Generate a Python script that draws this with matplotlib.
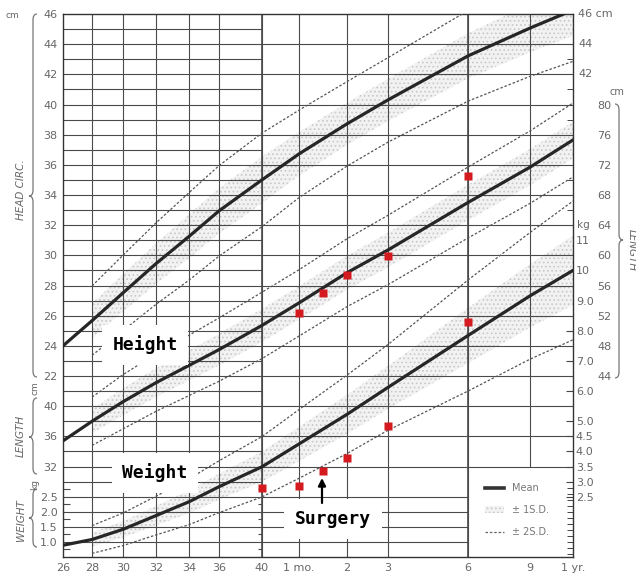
import numpy as np
import matplotlib.pyplot as plt
from matplotlib.lines import Line2D
from matplotlib.patches import Patch, PathPatch
from matplotlib.path import Path

plt.rcParams['hatch.linewidth'] = 0.7

WK = 4.345  # weeks per month

# age axis: postmenstrual weeks up to term, then months after birth
age_labels = ['26', '28', '30', '32', '34', '36', '40', '1 mo.', '2', '3', '6', '9', '1 yr.']
age_weeks = [26, 28, 30, 32, 34, 36, 40, 40 + 1 * WK, 40 + 2 * WK, 40 + 3 * WK,
             40 + 6 * WK, 40 + 9 * WK, 40 + 12 * WK]
# where each age sits across the printed chart (fraction of width)
age_pos = [0.0, 0.057, 0.118, 0.182, 0.247, 0.306, 0.390, 0.463, 0.557, 0.637,
           0.794, 0.916, 1.0]

# reference curves at the ages above
head_mean = [24.0, 25.67, 27.52, 29.44, 31.25, 32.95, 35.0, 36.73, 38.72, 40.3, 43.22, 45.07, 46.26]
head_sd = [np.nan, 1.15, 1.25, 1.35, 1.45, 1.5, 1.55, 1.45, 1.4, 1.4, 1.5, 1.6, 1.7]
len_mean = [35.4, 38.0, 40.6, 43.1, 45.4, 47.5, 50.7, 53.7, 57.7, 60.7, 67.0, 71.7, 75.3]
len_sd = [np.nan, 1.6, 1.8, 1.9, 2.0, 2.1, 2.2, 2.2, 2.25, 2.3, 2.35, 2.4, 2.45]
wt_mean = [0.89, 1.08, 1.42, 1.87, 2.33, 2.83, 3.49, 4.25, 5.23, 6.12, 7.84, 9.16, 10.0]
wt_sd = [np.nan, 0.23, 0.27, 0.32, 0.38, 0.43, 0.5, 0.57, 0.65, 0.71, 0.92, 1.05, 1.15]

# patient measurements
pt_wt_age = [40, 40 + WK, 40 + 1.5 * WK, 40 + 2 * WK, 40 + 3 * WK, 40 + 6 * WK]
pt_wt = [2.8, 2.85, 3.35, 3.78, 4.84, 8.3]
pt_len_age = [40 + WK, 40 + 1.5 * WK, 40 + 2 * WK, 40 + 3 * WK, 40 + 6 * WK]
pt_len = [52.3, 55.0, 57.4, 59.9, 70.5]


# the chart's base unit is head circumference (cm); length and weight share it
def ident(v):
    return np.asarray(v, dtype=float)


def len_to_h(v):
    return np.asarray(v, dtype=float) / 2.0


def h_to_len(v):
    return np.asarray(v, dtype=float) * 2.0


def kg_to_h(v):
    return 2.0 * np.asarray(v, dtype=float) + 9.0


def h_to_kg(v):
    return (np.asarray(v, dtype=float) - 9.0) / 2.0


def fwd(a):
    return np.interp(a, age_weeks, age_pos)


def inv(p):
    return np.interp(p, age_pos, age_weeks)


fig = plt.figure(figsize=(6.36, 5.75), dpi=100)
ax = fig.add_axes([63 / 636, 1 - 557 / 575, 510 / 636, 543 / 575])
ax.set_xscale('function', functions=(fwd, inv))
ax.set_xlim(age_weeks[0], age_weeks[-1])
ax.set_ylim(10, 46)

gc = '#4a4a4a'
glw = 0.8
term = age_weeks[6]
m6 = age_weeks[10]
# grid: 1 cm steps before term, 2 cm steps after
ax.hlines(np.arange(11, 46), age_weeks[0], term, color=gc, lw=glw, zorder=2)
ax.hlines(np.arange(16, 46, 2), term, age_weeks[-1], color=gc, lw=glw, zorder=2)
ax.hlines([11, 12, 13, 14], term, m6, color=gc, lw=glw, zorder=2)
ax.hlines(np.arange(10.5, 15, 1), age_weeks[0], 26.5, color=gc, lw=glw, zorder=2)
ax.hlines(np.arange(10.5, 15, 1), 39.6, term, color=gc, lw=glw, zorder=2)
ax.vlines(age_weeks[1:11], 10, 46, color=gc, lw=glw, zorder=2)
ax.vlines([term, m6], 10, 46, color=gc, lw=1.2, zorder=2)
ax.vlines(age_weeks[11], 16, 46, color=gc, lw=glw, zorder=2)

for mean, sd, conv in [(head_mean, head_sd, ident), (len_mean, len_sd, len_to_h),
                       (wt_mean, wt_sd, kg_to_h)]:
    m = np.array(mean)
    s = np.array(sd)
    ax.fill_between(age_weeks, conv(m - s), conv(m + s), facecolor='#f2f2f2',
                    edgecolor='#c8c8c8', hatch='....', linewidth=0, zorder=1)
    ax.plot(age_weeks, conv(m), color='#262626', lw=2.3, zorder=4,
            solid_joinstyle='round')
    for k in (2, -2):
        ax.plot(age_weeks, conv(m + k * s), color='#555555', lw=0.9,
                ls=(0, (2, 1.5)), zorder=3)

ax.plot(pt_wt_age, kg_to_h(pt_wt), 's', color='#d41a1f', ms=5.5, mec='none', zorder=6)
ax.plot(pt_len_age, len_to_h(pt_len), 's', color='#d41a1f', ms=5.5, mec='none', zorder=6)

for sp in ax.spines.values():
    sp.set_color('#333333')
    sp.set_linewidth(1.0)

lab_col = '#666666'
ax.set_xticks(age_weeks)
ax.set_xticklabels(age_labels)
ax.tick_params(axis='both', length=0, labelsize=8, labelcolor=lab_col, pad=4)
ax.xaxis.set_minor_locator(plt.NullLocator())

# left scale labels
head_ticks = list(range(46, 21, -2))
len_ticks = [40, 36, 32]
wt_ticks = [2.5, 2.0, 1.5, 1.0]
ypos = list(head_ticks) + list(len_to_h(len_ticks)) + list(kg_to_h(wt_ticks))
ylab = [str(v) for v in head_ticks] + [str(v) for v in len_ticks] + ['%.1f' % v for v in wt_ticks]
ax.set_yticks(ypos)
ax.set_yticklabels(ylab)
ax.yaxis.set_minor_locator(plt.NullLocator())

# right weight scale
r_wt = [11, 10, 9, 8, 7, 6, 5, 4.5, 4, 3.5, 3, 2.5]
sec = ax.secondary_yaxis('right', functions=(h_to_kg, kg_to_h))
sec.set_yticks(r_wt)
sec.set_yticklabels(['11', '10'] + ['%.1f' % v for v in r_wt[2:]])
sec.set_yticks(list(range(12, 19)) + list(np.arange(0.6, 2.95, 0.2)), minor=True)
sec.tick_params(which='major', direction='in', length=5, width=0.8, color='#444444',
                labelsize=8, labelcolor=lab_col, pad=2)
sec.tick_params(which='minor', direction='in', length=4, width=0.7, color='#444444')
sec.spines['right'].set_visible(False)

# right length scale
r_len = list(range(80, 43, -4))
sec2 = ax.secondary_yaxis(1.045, functions=(h_to_len, len_to_h))
sec2.set_yticks(r_len)
sec2.set_yticklabels([str(v) for v in r_len])
sec2.tick_params(length=0, labelsize=8, labelcolor=lab_col, pad=1)
sec2.yaxis.set_minor_locator(plt.NullLocator())
sec2.spines['right'].set_visible(False)

yt = ax.get_yaxis_transform()
for h, t in [(46, '46 cm'), (44, '44'), (42, '42')]:
    ax.text(1.01, h, t, transform=yt, ha='left', va='center', fontsize=8, color=lab_col)
ax.text(1.008, kg_to_h(11.5), 'kg', transform=yt, ha='left', va='center',
        fontsize=7.5, color=lab_col)

handles = [Line2D([], [], color='#333333', lw=2.6),
           Patch(facecolor='#f2f2f2', edgecolor='#c8c8c8', hatch='....', lw=0),
           Line2D([], [], color='#666666', lw=0.9, ls=(0, (2, 1.5)))]
ax.legend(handles, ['Mean', '\u00b1 1S.D.', '\u00b1 2S.D.'], loc='lower left',
          bbox_to_anchor=(0.81, 0.02), frameon=False, fontsize=7, labelcolor='#777777',
          handlelength=2.0, labelspacing=1.25)

# overlay in pixel units for braces and notes
ov = fig.add_axes([0, 0, 1, 1], facecolor='none')
ov.set_xlim(0, 636)
ov.set_ylim(575, 0)
ov.axis('off')


def brace(x, y0, y1, ym, w, side):
    r = min(6, (y1 - y0) / 8)
    hx = x - side * w
    tx = x + side * w
    verts = [(hx, y0), (x, y0), (x, y0 + r), (x, ym - r), (x, ym), (tx, ym),
             (x, ym), (x, ym + r), (x, y1 - r), (x, y1), (hx, y1)]
    codes = [Path.MOVETO, Path.CURVE3, Path.CURVE3, Path.LINETO, Path.CURVE3, Path.CURVE3,
             Path.CURVE3, Path.CURVE3, Path.LINETO, Path.CURVE3, Path.CURVE3]
    ov.add_patch(PathPatch(Path(verts, codes), fc='none', ec='#777777', lw=0.9))


brace(33, 14, 377, 196, 4, -1)
brace(33, 398, 474, 437, 4, -1)
brace(33, 489, 547, 518, 4, -1)
brace(619, 104, 378, 240, 4, 1)

side_kw = dict(color=lab_col, ha='center', va='center')
ov.text(12, 16, 'cm', fontsize=6.5, **side_kw)
ov.text(21, 190, 'HEAD CIRC.', rotation=90, style='italic', fontsize=7.5, **side_kw)
ov.text(35, 388, 'cm', rotation=90, fontsize=6.5, **side_kw)
ov.text(21, 436, 'LENGTH', rotation=90, style='italic', fontsize=7.5, **side_kw)
ov.text(35, 484, 'kg', rotation=90, fontsize=6.5, **side_kw)
ov.text(21, 520, 'WEIGHT', rotation=90, style='italic', fontsize=7.5, **side_kw)
ov.text(617, 92, 'cm', fontsize=7, **side_kw)
ov.text(632, 250, 'LENGTH', rotation=-90, style='italic', fontsize=7.5, **side_kw)

note_kw = dict(family='DejaVu Sans Mono', weight='bold', fontsize=13, ha='center',
               va='center', color='black',
               bbox=dict(boxstyle='square,pad=0.6', fc='white', ec='none'))
ov.text(145, 345, 'Height', **note_kw)
ov.text(155, 473, 'Weight', **note_kw)
ov.text(333, 519, 'Surgery', **note_kw)
ov.annotate('', xy=(322, 478), xytext=(322, 503),
            arrowprops=dict(arrowstyle='-|>', color='black', lw=1.6, mutation_scale=11,
                            shrinkA=0, shrinkB=0))

fig.savefig('out.png', dpi=100)
